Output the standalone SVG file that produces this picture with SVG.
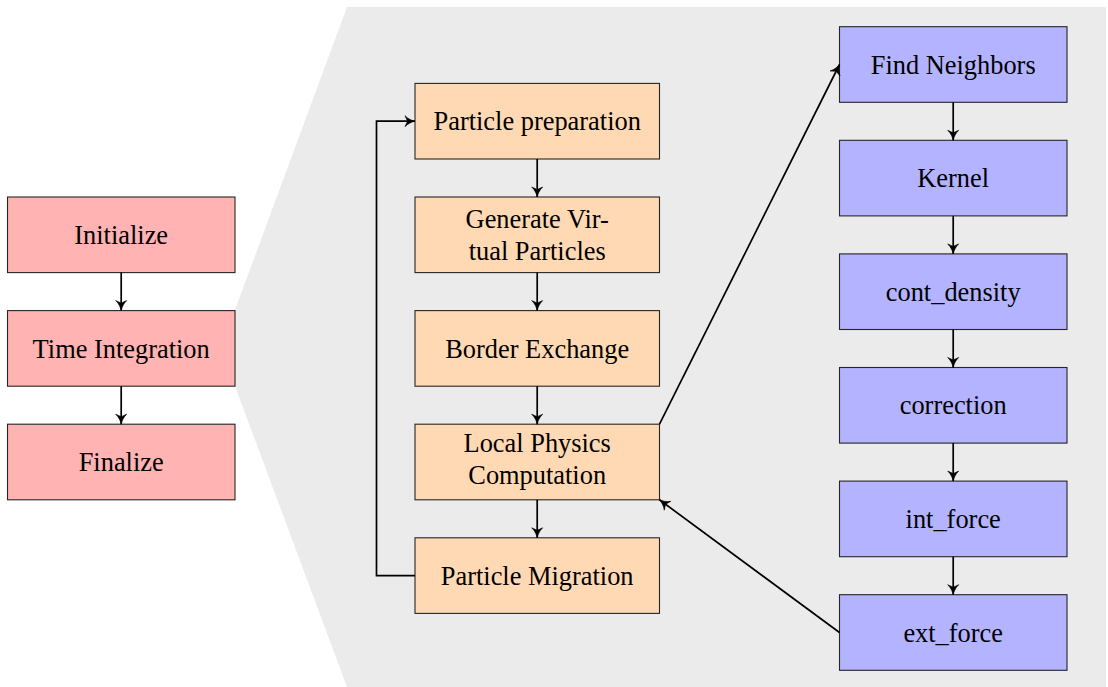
<svg xmlns="http://www.w3.org/2000/svg" width="1108" height="687" viewBox="0 0 1108 687">
<style>
.bx{stroke:#262626;stroke-width:1.1}
.red{fill:#FFB3B3}
.org{fill:#FFD9B3}
.blu{fill:#B3B3FF}
text{font-family:'Liberation Serif','Times New Roman',serif;font-size:26.4px;fill:#000;text-anchor:middle}
.c{fill:none;stroke:#000;stroke-width:1.7;marker-end:url(#ah)}
</style>
<defs>
<marker id="ah" markerUnits="userSpaceOnUse" markerWidth="16" markerHeight="16" viewBox="-12 -8 14 16" refX="0" refY="0" orient="auto">
<path d="M-10,-5.5 C-7,-2.2 -2.5,-0.5 0,0 C-2.5,0.5 -7,2.2 -10,5.5 L-7.5,0 Z" fill="#000" stroke="#000" stroke-width="0.6" stroke-linejoin="round"/>
</marker>
</defs>
<polygon points="347,7 1106,7 1106,687 347,687 235,386 235,310" fill="#EBEBEB"/>
<g id="n-init"><rect class="bx red" x="7.5" y="197" width="227.5" height="75.6"/><text x="121.2" y="244">Initialize</text></g>
<g id="n-time"><rect class="bx red" x="7.5" y="310.6" width="227.5" height="75.6"/><text x="121.2" y="357.6">Time Integration</text></g>
<g id="n-final"><rect class="bx red" x="7.5" y="424.2" width="227.5" height="75.6"/><text x="121.2" y="471.2">Finalize</text></g>
<g id="n-prep"><rect class="bx org" x="415" y="83.4" width="244.5" height="75.6"/><text x="537.2" y="130.4">Particle preparation</text></g>
<g id="n-gen"><rect class="bx org" x="415" y="197" width="244.5" height="75.6"/><text x="537.2" y="228.3">Generate Vir-</text><text x="537.2" y="260">tual Particles</text></g>
<g id="n-border"><rect class="bx org" x="415" y="310.6" width="244.5" height="75.6"/><text x="537.2" y="357.6">Border Exchange</text></g>
<g id="n-local"><rect class="bx org" x="415" y="424.2" width="244.5" height="75.6"/><text x="537.2" y="452.3">Local Physics</text><text x="537.2" y="484">Computation</text></g>
<g id="n-migr"><rect class="bx org" x="415" y="537.8" width="244.5" height="75.6"/><text x="537.2" y="584.6">Particle Migration</text></g>
<g id="n-neigh"><rect class="bx blu" x="839.5" y="26.7" width="227.5" height="75.6"/><text x="953.2" y="73.6">Find Neighbors</text></g>
<g id="n-kernel"><rect class="bx blu" x="839.5" y="140.3" width="227.5" height="75.6"/><text x="953.2" y="187.2">Kernel</text></g>
<g id="n-cont"><rect class="bx blu" x="839.5" y="253.9" width="227.5" height="75.6"/><text x="953.2" y="300.8">cont_density</text></g>
<g id="n-corr"><rect class="bx blu" x="839.5" y="367.5" width="227.5" height="75.6"/><text x="953.2" y="414.4">correction</text></g>
<g id="n-int"><rect class="bx blu" x="839.5" y="481.1" width="227.5" height="75.6"/><text x="953.2" y="528">int_force</text></g>
<g id="n-ext"><rect class="bx blu" x="839.5" y="594.7" width="227.5" height="75.6"/><text x="953.2" y="641.6">ext_force</text></g>
<g id="connectors">
<path class="c" d="M121.2,272.6 V310.6"/>
<path class="c" d="M121.2,386.2 V424.2"/>
<path class="c" d="M537.2,159 V197"/>
<path class="c" d="M537.2,272.6 V310.6"/>
<path class="c" d="M537.2,386.2 V424.2"/>
<path class="c" d="M537.2,499.8 V537.8"/>
<path class="c" d="M415,575.6 H376.5 V121.2 H415"/>
<path class="c" d="M953.2,102.3 V140.3"/>
<path class="c" d="M953.2,215.9 V253.9"/>
<path class="c" d="M953.2,329.5 V367.5"/>
<path class="c" d="M953.2,443.1 V481.1"/>
<path class="c" d="M953.2,556.7 V594.7"/>
<path class="c" d="M659.5,424.2 L839.5,64.5"/>
<path class="c" d="M839.5,632.5 L659.5,499.8"/>
</g>
</svg>
